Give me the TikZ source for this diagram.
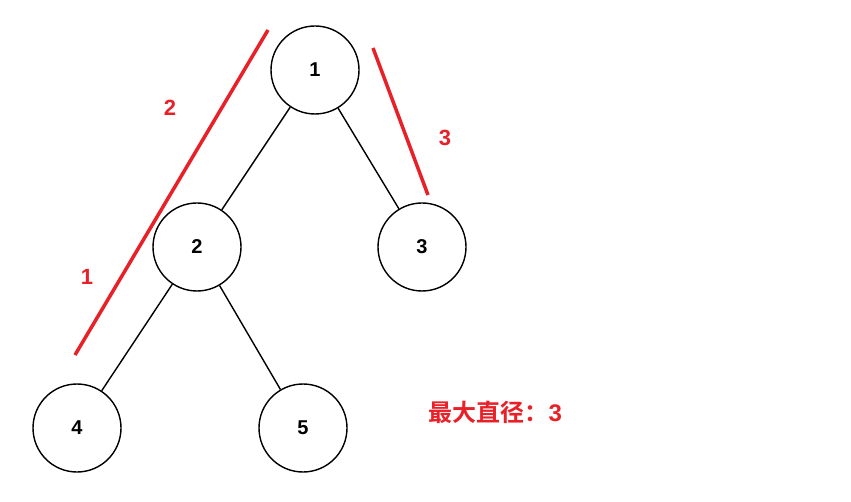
\documentclass[tikz,border=0pt]{standalone}
\usepackage{fontspec}
\setmainfont{Liberation Sans}
\newfontfamily\cjk{Noto Sans CJK SC Bold}
\definecolor{pathred}{RGB}{232,32,40}
\tikzset{tnode/.style={circle, draw, line width=1.4pt, minimum size=88pt, font=\fontsize{20}{24}\selectfont\bfseries}}
\tikzset{redline/.style={pathred, line width=3.5pt}}
\tikzset{redlabel/.style={text=pathred, font=\fontsize{22}{26}\selectfont\bfseries}}
\begin{document}
\begin{tikzpicture}[x=1pt,y=-1pt]
  \useasboundingbox (0,0) rectangle (851,502);
  \node[tnode] (N1) at (315,70) {1};
  \node[tnode] (N2) at (197,247) {2};
  \node[tnode] (N3) at (422,247) {3};
  \node[tnode] (N4) at (77,428) {4};
  \node[tnode] (N5) at (303,428) {5};

  \draw[line width=1.4pt] (N1) -- (N2);
  \draw[line width=1.4pt] (N1) -- (N3);
  \draw[line width=1.4pt] (N2) -- (N4);
  \draw[line width=1.4pt] (N2) -- (N5);

  %% diameter marks
  \coordinate (A1) at (268,30);
  \coordinate (A2) at (75,355);
  \coordinate (B1) at (373,48);
  \coordinate (B2) at (428,195);
  \draw[redline] (A1) -- (A2);
  \draw[redline] (B1) -- (B2);
  \node[redlabel] (L2) at (170,108) {2};
  \node[redlabel] (L1) at (87,277) {1};
  \node[redlabel] (L3) at (445,138) {3};
  \node[text=pathred, anchor=west, font=\fontsize{24}{28}\selectfont] (D) at (425,412) {\cjk 最大直径：\bfseries\rmfamily 3};
\end{tikzpicture}
\end{document}
